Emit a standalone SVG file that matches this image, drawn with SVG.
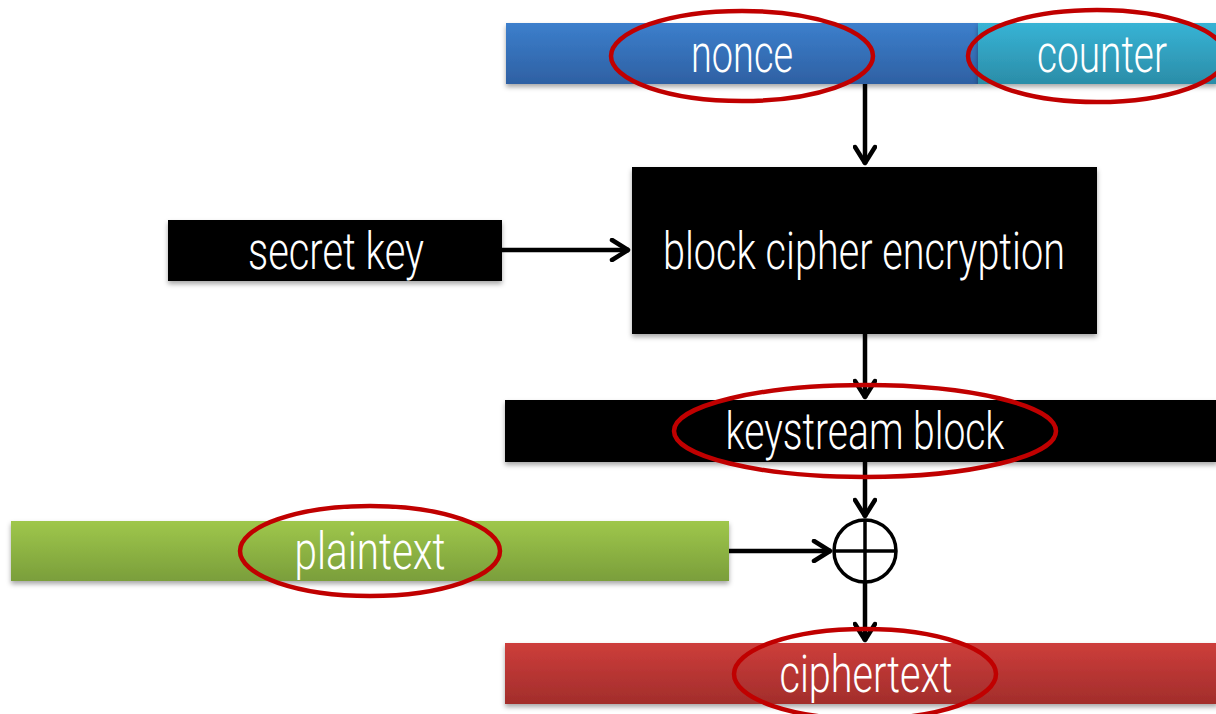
<svg xmlns="http://www.w3.org/2000/svg" width="1216" height="714" viewBox="0 0 1216 714">
<defs>
<linearGradient id="gBlue" x1="0" y1="0" x2="0" y2="1"><stop offset="0" stop-color="#3c7fcc"/><stop offset="1" stop-color="#2e60a3"/></linearGradient>
<linearGradient id="gCyan" x1="0" y1="0" x2="0" y2="1"><stop offset="0" stop-color="#37b3d5"/><stop offset="1" stop-color="#2b8da8"/></linearGradient>
<linearGradient id="gGreen" x1="0" y1="0" x2="0" y2="1"><stop offset="0" stop-color="#9fc74b"/><stop offset="1" stop-color="#7a9e3b"/></linearGradient>
<linearGradient id="gRed" x1="0" y1="0" x2="0" y2="1"><stop offset="0" stop-color="#cd3e3b"/><stop offset="1" stop-color="#a22d2b"/></linearGradient>
<filter id="sh" x="-5%" y="-20%" width="110%" height="150%"><feDropShadow dx="0" dy="3" stdDeviation="2.5" flood-color="#000" flood-opacity="0.35"/></filter>
<marker id="ah" viewBox="0 0 24 24" refX="21" refY="12" markerWidth="24" markerHeight="24" markerUnits="userSpaceOnUse" orient="auto"><path d="M4,2 L20,12 L4,22" fill="none" stroke="#000" stroke-width="4.5" stroke-linecap="round" stroke-linejoin="round"/></marker>
</defs>
<style>
.lbl{font-family:Roboto,"Liberation Sans",sans-serif;font-weight:300;font-size:51px;fill:#fff;text-anchor:middle}
.ring{fill:none;stroke:#c00000;stroke-width:4.5}
.conn{stroke:#000;stroke-width:4.5;fill:none}
</style>
<rect width="1216" height="714" fill="#fff"/>
<g id="connectors">
<line class="conn" x1="865" y1="84" x2="865" y2="164" marker-end="url(#ah)"/>
<line class="conn" x1="502" y1="250" x2="629" y2="250" marker-end="url(#ah)"/>
<line class="conn" x1="865" y1="334" x2="865" y2="398" marker-end="url(#ah)"/>
<line class="conn" x1="865" y1="462" x2="865" y2="517" marker-end="url(#ah)"/>
<line class="conn" x1="729" y1="551" x2="831" y2="551" marker-end="url(#ah)"/>
<line class="conn" x1="865" y1="583" x2="865" y2="641" marker-end="url(#ah)"/>
</g>
<g id="nonce"><rect x="506" y="23" width="472" height="61" fill="url(#gBlue)" filter="url(#sh)"/><text class="lbl" x="742" y="72" textLength="102" lengthAdjust="spacingAndGlyphs">nonce</text></g>
<g id="counter"><rect x="978" y="23" width="240" height="61" fill="url(#gCyan)" filter="url(#sh)"/><text class="lbl" x="1102" y="72" textLength="130" lengthAdjust="spacingAndGlyphs">counter</text></g>
<g id="secret-key"><rect x="168" y="220" width="334" height="61" fill="#000" filter="url(#sh)"/><text class="lbl" x="336" y="269" textLength="176" lengthAdjust="spacingAndGlyphs">secret key</text></g>
<g id="block-cipher"><rect x="632" y="167" width="465" height="167" fill="#000" filter="url(#sh)"/><text class="lbl" x="864" y="269" textLength="402" lengthAdjust="spacingAndGlyphs">block cipher encryption</text></g>
<g id="keystream"><rect x="505" y="400" width="713" height="62" fill="#000" filter="url(#sh)"/><text class="lbl" x="865" y="449" textLength="279" lengthAdjust="spacingAndGlyphs">keystream block</text></g>
<g id="plaintext"><rect x="11" y="521" width="718" height="60" fill="url(#gGreen)" filter="url(#sh)"/><text class="lbl" x="370" y="569" textLength="151" lengthAdjust="spacingAndGlyphs">plaintext</text></g>
<g id="xor"><circle cx="865" cy="551" r="31" fill="#fff" stroke="#000" stroke-width="3.5"/><line x1="834" y1="551" x2="896" y2="551" stroke="#000" stroke-width="3.5"/><line x1="865" y1="520" x2="865" y2="582" stroke="#000" stroke-width="3.5"/></g>
<g id="ciphertext"><rect x="505" y="643" width="713" height="61" fill="url(#gRed)" filter="url(#sh)"/><text class="lbl" x="866" y="692" textLength="173" lengthAdjust="spacingAndGlyphs">ciphertext</text></g>
<g id="highlights">
<ellipse class="ring" cx="742" cy="56" rx="131" ry="45"/>
<ellipse class="ring" cx="1097" cy="56" rx="129" ry="46"/>
<ellipse class="ring" cx="865" cy="431" rx="191" ry="46"/>
<ellipse class="ring" cx="370" cy="551" rx="130" ry="45"/>
<ellipse class="ring" cx="865" cy="674" rx="131" ry="45"/>
</g>
</svg>
